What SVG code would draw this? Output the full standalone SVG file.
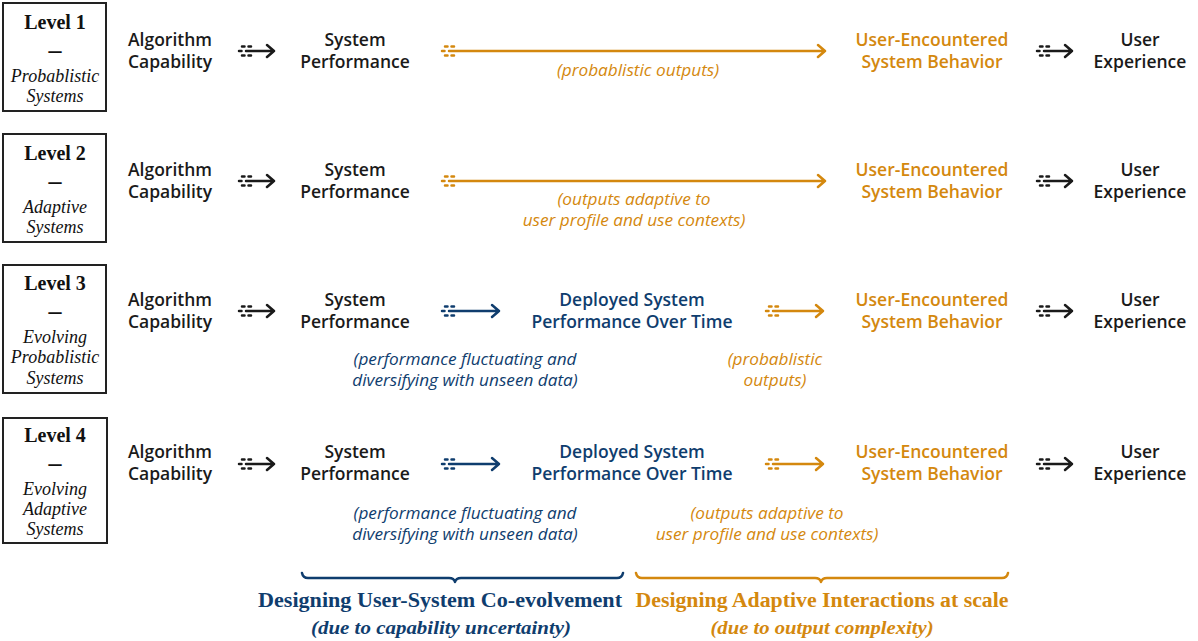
<svg xmlns="http://www.w3.org/2000/svg" xmlns:xlink="http://www.w3.org/1999/xlink" width="1198" height="641" viewBox="0 0 1198 641">
<style>
.box{fill:#fff;stroke:#222;stroke-width:2}
.lv{font-family:"Liberation Serif",serif;font-weight:bold;font-size:20px;fill:#111;text-anchor:middle}
.dash{font-family:"Liberation Serif",serif;font-weight:bold;font-size:26px;fill:#111;text-anchor:middle}
.ls{font-family:"Liberation Serif",serif;font-style:italic;font-size:18px;fill:#111;text-anchor:middle}
.n{font-family:"Open Sans","Noto Sans",sans-serif;font-weight:600;font-size:17.5px;text-anchor:middle}
.k{fill:#1a1a1a}
.b{fill:#0f3d6e}
.o{fill:#d4880e}
.lab{font-family:"Open Sans","Noto Sans",sans-serif;font-style:italic;font-size:17.2px;text-anchor:middle}
.ln{fill:none;stroke-width:2.5;stroke-linecap:round;stroke-linejoin:round}
.sk{stroke:#1a1a1a;color:#1a1a1a}
.sb{stroke:#0f3d6e;color:#0f3d6e}
.so{stroke:#d4880e;color:#d4880e}
.ttl{font-family:"Liberation Serif",serif;font-weight:bold;font-size:20px;text-anchor:middle}
.sub{font-family:"Liberation Serif",serif;font-weight:bold;font-style:italic;font-size:18px;text-anchor:middle}
</style>
<defs>
<symbol id="tail" overflow="visible">
<path d="M0,0h2.5M3,-4.5h2.5M9.5,-4.5h2.5M3,4.5h2.5M9.5,4.5h2.5" fill="none" stroke="currentColor" stroke-width="2.5" stroke-linecap="round"/>
</symbol>
</defs>

<!-- Level boxes -->
<g id="level1"><rect class="box" x="3" y="3" width="103" height="108"/>
<text class="lv" x="55" y="29">Level 1</text><text class="dash" x="55" y="58">–</text>
<text class="ls" x="55" y="82">Probablistic</text><text class="ls" x="55" y="102">Systems</text></g>
<g id="level2"><rect class="box" x="3" y="134" width="103" height="108"/>
<text class="lv" x="55" y="160">Level 2</text><text class="dash" x="55" y="189">–</text>
<text class="ls" x="55" y="213">Adaptive</text><text class="ls" x="55" y="233">Systems</text></g>
<g id="level3"><rect class="box" x="3" y="265" width="103" height="128"/>
<text class="lv" x="55" y="290">Level 3</text><text class="dash" x="55" y="319">–</text>
<text class="ls" x="55" y="343">Evolving</text><text class="ls" x="55" y="363">Probablistic</text><text class="ls" x="55" y="384">Systems</text></g>
<g id="level4"><rect class="box" x="3" y="418" width="104" height="125"/>
<text class="lv" x="55" y="442">Level 4</text><text class="dash" x="55" y="471">–</text>
<text class="ls" x="55" y="495">Evolving</text><text class="ls" x="55" y="515">Adaptive</text><text class="ls" x="55" y="535">Systems</text></g>

<!-- Row 1 nodes -->
<g id="r1-alg"><text class="n k" x="170" y="46">Algorithm</text><text class="n k" x="170" y="68">Capability</text></g>
<g id="r1-sys"><text class="n k" x="355" y="46">System</text><text class="n k" x="355" y="68">Performance</text></g>
<g id="r1-ueb"><text class="n o" x="932" y="46">User-Encountered</text><text class="n o" x="932" y="68">System Behavior</text></g>
<g id="r1-ux"><text class="n k" x="1140" y="46">User</text><text class="n k" x="1140" y="68">Experience</text></g>

<!-- Row 2 nodes -->
<g id="r2-alg"><text class="n k" x="170" y="176">Algorithm</text><text class="n k" x="170" y="198">Capability</text></g>
<g id="r2-sys"><text class="n k" x="355" y="176">System</text><text class="n k" x="355" y="198">Performance</text></g>
<g id="r2-ueb"><text class="n o" x="932" y="176">User-Encountered</text><text class="n o" x="932" y="198">System Behavior</text></g>
<g id="r2-ux"><text class="n k" x="1140" y="176">User</text><text class="n k" x="1140" y="198">Experience</text></g>

<!-- Row 3 nodes -->
<g id="r3-alg"><text class="n k" x="170" y="306">Algorithm</text><text class="n k" x="170" y="328">Capability</text></g>
<g id="r3-sys"><text class="n k" x="355" y="306">System</text><text class="n k" x="355" y="328">Performance</text></g>
<g id="r3-dep"><text class="n b" x="632" y="306">Deployed System</text><text class="n b" x="632" y="328">Performance Over Time</text></g>
<g id="r3-ueb"><text class="n o" x="932" y="306">User-Encountered</text><text class="n o" x="932" y="328">System Behavior</text></g>
<g id="r3-ux"><text class="n k" x="1140" y="306">User</text><text class="n k" x="1140" y="328">Experience</text></g>

<!-- Row 4 nodes -->
<g id="r4-alg"><text class="n k" x="170" y="458">Algorithm</text><text class="n k" x="170" y="480">Capability</text></g>
<g id="r4-sys"><text class="n k" x="355" y="458">System</text><text class="n k" x="355" y="480">Performance</text></g>
<g id="r4-dep"><text class="n b" x="632" y="458">Deployed System</text><text class="n b" x="632" y="480">Performance Over Time</text></g>
<g id="r4-ueb"><text class="n o" x="932" y="458">User-Encountered</text><text class="n o" x="932" y="480">System Behavior</text></g>
<g id="r4-ux"><text class="n k" x="1140" y="458">User</text><text class="n k" x="1140" y="480">Experience</text></g>

<!-- Connectors -->
<g id="connectors">
<!-- row 1 -->
<g class="sk"><use href="#tail" x="239" y="51"/><path class="ln sk" d="M246,51H274M267,45L274,51L267,57"/></g>
<g class="so"><use href="#tail" x="442" y="51"/><path class="ln so" d="M449,51H825M818,45L825,51L818,57"/></g>
<g class="sk"><use href="#tail" x="1037" y="51"/><path class="ln sk" d="M1044,51H1072M1065,45L1072,51L1065,57"/></g>
<!-- row 2 -->
<g class="sk"><use href="#tail" x="239" y="181"/><path class="ln sk" d="M246,181H274M267,175L274,181L267,187"/></g>
<g class="so"><use href="#tail" x="442" y="181"/><path class="ln so" d="M449,181H825M818,175L825,181L818,187"/></g>
<g class="sk"><use href="#tail" x="1037" y="181"/><path class="ln sk" d="M1044,181H1072M1065,175L1072,181L1065,187"/></g>
<!-- row 3 -->
<g class="sk"><use href="#tail" x="239" y="311"/><path class="ln sk" d="M246,311H274M267,305L274,311L267,317"/></g>
<g class="sb"><use href="#tail" x="442" y="311"/><path class="ln sb" d="M449,311H499M492,305L499,311L492,317"/></g>
<g class="so"><use href="#tail" x="766" y="311"/><path class="ln so" d="M773,311H823M816,305L823,311L816,317"/></g>
<g class="sk"><use href="#tail" x="1037" y="311"/><path class="ln sk" d="M1044,311H1072M1065,305L1072,311L1065,317"/></g>
<!-- row 4 -->
<g class="sk"><use href="#tail" x="239" y="464"/><path class="ln sk" d="M246,464H274M267,458L274,464L267,470"/></g>
<g class="sb"><use href="#tail" x="442" y="464"/><path class="ln sb" d="M449,464H499M492,458L499,464L492,470"/></g>
<g class="so"><use href="#tail" x="766" y="464"/><path class="ln so" d="M773,464H823M816,458L823,464L816,470"/></g>
<g class="sk"><use href="#tail" x="1037" y="464"/><path class="ln sk" d="M1044,464H1072M1065,458L1072,464L1065,470"/></g>
</g>

<!-- Connector labels -->
<g id="labels">
<text class="lab o" x="638" y="76">(probablistic outputs)</text>
<text class="lab o" x="634" y="205">(outputs adaptive to</text>
<text class="lab o" x="634" y="226">user profile and use contexts)</text>
<text class="lab b" x="465" y="365">(performance fluctuating and</text>
<text class="lab b" x="465" y="386">diversifying with unseen data)</text>
<text class="lab o" x="775" y="365">(probablistic</text>
<text class="lab o" x="775" y="386">outputs)</text>
<text class="lab b" x="465" y="519">(performance fluctuating and</text>
<text class="lab b" x="465" y="540">diversifying with unseen data)</text>
<text class="lab o" x="767" y="519">(outputs adaptive to</text>
<text class="lab o" x="767" y="540">user profile and use contexts)</text>
</g>

<!-- Brackets -->
<g id="bracket-blue">
<path class="ln sb" d="M302,573Q303,578 308,578L449,578Q454,578 455,582Q456,578 461,578L617,578Q622,578 623,573"/>
<text class="ttl b" x="440" y="607" textLength="364" lengthAdjust="spacingAndGlyphs">Designing User-System Co-evolvement</text>
<text class="sub b" x="441" y="634" textLength="260" lengthAdjust="spacingAndGlyphs">(due to capability uncertainty)</text>
</g>
<g id="bracket-orange">
<path class="ln so" d="M636,573Q637,578 642,578L815,578Q820,578 821,582Q822,578 827,578L1002,578Q1007,578 1008,573"/>
<text class="ttl o" x="822" y="607" textLength="373" lengthAdjust="spacingAndGlyphs">Designing Adaptive Interactions at scale</text>
<text class="sub o" x="822" y="634" textLength="223" lengthAdjust="spacingAndGlyphs">(due to output complexity)</text>
</g>
</svg>
